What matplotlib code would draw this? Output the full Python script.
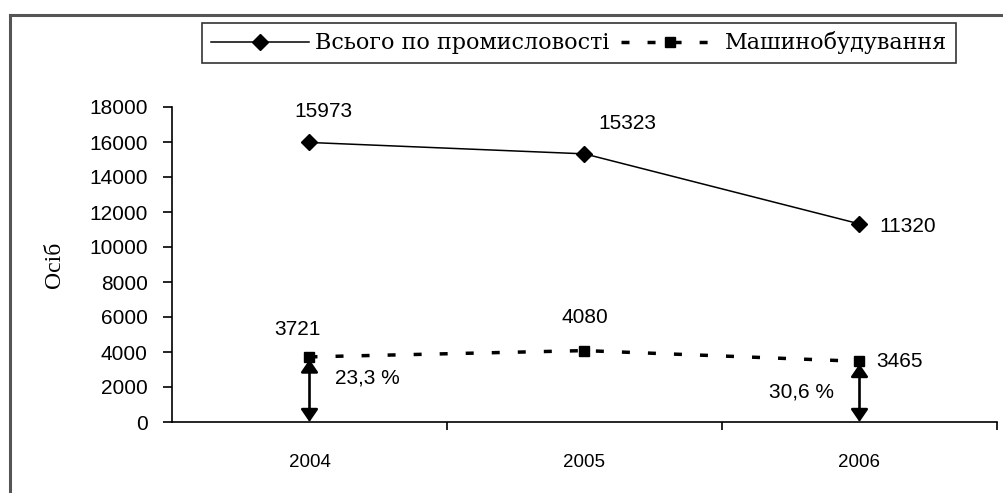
import matplotlib
matplotlib.use('Agg')
import matplotlib.pyplot as plt
from matplotlib.lines import Line2D

years = ['2004', '2005', '2006']
total = [15973, 15323, 11320]
machine = [3721, 4080, 3465]
share_labels = ['23,3 %', '30,6 %']
share_idx = [0, 2]
total_name = 'Всього по промисловості'
machine_name = 'Машинобудування'
y_ticks = list(range(0, 18001, 2000))

W, H = 1004, 493
fig = plt.figure(figsize=(W / 100, H / 100), dpi=100)
ax = fig.add_axes([172 / W, (H - 422) / H, (997 - 172) / W, (422 - 107) / H])

x = [1, 2, 3]
sans = 'Liberation Sans'
serif = 'Liberation Serif'

ax.plot(x, total, color='black', lw=1.1, marker='D', ms=8,
        label=total_name)
ax.plot(x, machine, color='black', lw=2.5, ls=(0, (2.3, 5.2)), marker='s', ms=7,
        label=machine_name)

# data labels: (value, x, dx, dy, ha) offsets in points
labels = [
    (total[0], x[0], 10, 22, 'center'),
    (total[1], x[1], 31, 22, 'center'),
    (total[2], x[2], 14, -2, 'left'),
    (machine[0], x[0], -9, 20, 'center'),
    (machine[1], x[1], 0, 24, 'center'),
    (machine[2], x[2], 12, 0, 'left'),
]
for val, xi, dx, dy, ha in labels:
    ax.annotate(str(val), (xi, val), xytext=(dx, dy), textcoords='offset points',
                ha=ha, va='center', fontsize=15, family=sans)

# double arrows with share
for i in share_idx:
    ax.annotate('', xy=(x[i], machine[i] - 150), xytext=(x[i], 0),
                arrowprops=dict(arrowstyle='<|-|>,head_length=0.38,head_width=0.26',
                                color='black', lw=1.9,
                                mutation_scale=20, shrinkA=0, shrinkB=0))
share_pos = [(1.21, 2510), (2.79, 1700)]
for lab, (px, py) in zip(share_labels, share_pos):
    ax.text(px, py, lab, ha='center', va='center', fontsize=15, family=sans)

ax.set_xlim(0.5, 3.5)
ax.set_ylim(0, 18000)
ax.set_yticks(y_ticks)
ax.set_yticklabels([str(v) for v in y_ticks], family=sans, fontsize=15)
ax.set_xticks([1.5, 2.5, 3.5])
ax.set_xticklabels([])
ax.set_xticks(x, minor=True)
ax.set_xticklabels(years, minor=True, family=sans, fontsize=13.5)
ax.tick_params(axis='x', which='minor', length=0, pad=23)
ax.tick_params(axis='x', which='major', direction='out', length=6, width=1.2)
ax.tick_params(axis='y', direction='out', length=6.5, width=1.2, pad=11)
for s in ['top', 'right']:
    ax.spines[s].set_visible(False)
for s in ['left', 'bottom']:
    ax.spines[s].set_linewidth(1.2)
fig.text(55 / W, (H - 265) / H, 'Осіб', family=serif, fontsize=17,
         rotation=90, ha='center', va='center')

leg = fig.legend(loc='center', bbox_to_anchor=(579 / W, (H - 43) / H), ncol=2,
                 frameon=True, fancybox=False, edgecolor='black',
                 prop={'family': 'DejaVu Serif', 'size': 16}, handlelength=4.4,
                 columnspacing=0.5, handletextpad=0.3, borderpad=0.38,
                 borderaxespad=0)
leg.get_frame().set_linewidth(1.2)

# outer chart border (top and left only visible)
fig.add_artist(Line2D([10 / W, 1], [(H - 15) / H, (H - 15) / H], color='#555555', lw=2.2))
fig.add_artist(Line2D([10 / W, 10 / W], [0, (H - 15) / H], color='#555555', lw=2.2))

fig.savefig('out.png', dpi=100)
